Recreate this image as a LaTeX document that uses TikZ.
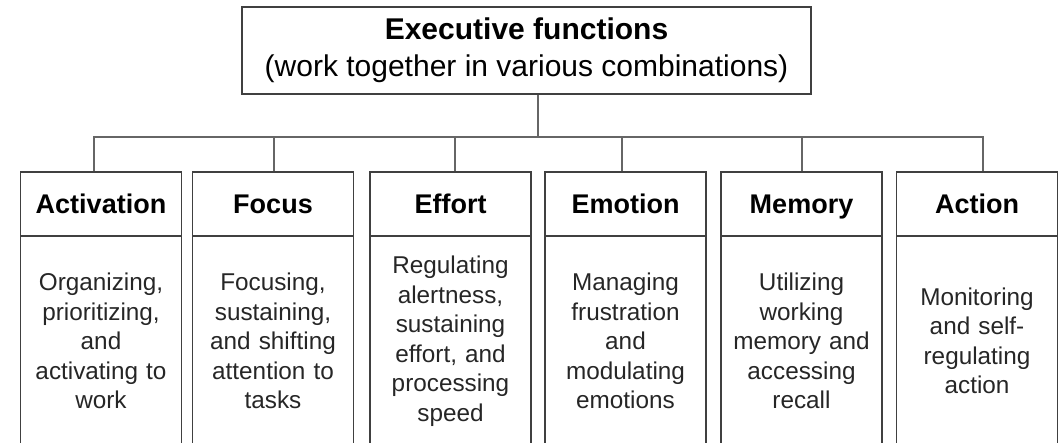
\documentclass[tikz,border=0pt]{standalone}
\usepackage{fontspec}
\setmainfont{Liberation Sans}

\begin{document}
\begin{tikzpicture}[x=1pt,y=-1pt]
\tikzset{title/.style = {draw=black!75,line width=1.2pt,minimum width=569pt,minimum height=87pt,align=center,inner sep=0pt,font=\fontsize{30}{37}\selectfont}}
\tikzset{head/.style = {draw=black!75,line width=1.2pt,minimum width=161pt,minimum height=64pt,inner sep=0pt,text height=19.2pt,text depth=0pt,font=\fontsize{27}{30}\selectfont\bfseries}}
\tikzset{body/.style = {draw=black!75,line width=1.2pt,minimum width=161pt,minimum height=210pt,text width=154pt,align=center,inner sep=0pt,text=black!85,font=\fontsize{24.3}{29.5}\selectfont}}
\tikzset{link/.style = {-,draw=black!60,line width=1.2pt}}
\useasboundingbox (0,0) rectangle (1064,442);
% top box
\node[title] (exec) at (526.5,50.5) {{\bfseries Executive functions}\\(work together in various combinations)};
% headers
\node[head] (act)  at (101,204)   {Activation};
\node[head] (foc)  at (273,204)   {Focus};
\node[head] (eff)  at (450.5,204) {Effort};
\node[head] (emo)  at (625.5,204) {Emotion};
\node[head] (mem)  at (801.5,204) {Memory};
\node[head] (actn) at (977,204)   {Action};
% bodies
\node[body] (actb)  at (101,341)   {Organizing,\\prioritizing,\\and\\activating to\\work};
\node[body] (focb)  at (273,341)   {Focusing,\\sustaining,\\and shifting\\attention to\\tasks};
\node[body] (effb)  at (450.5,341) {Regulating\\alertness,\\sustaining\\effort, and\\processing\\speed};
\node[body] (emob)  at (625.5,341) {Managing\\frustration\\and\\modulating\\emotions};
\node[body] (memb)  at (801.5,341) {Utilizing\\working\\memory and\\accessing\\recall};
\node[body] (actnb) at (977,341)   {Monitoring\\and self-\\regulating\\action};
%edges
\coordinate (bus) at (538,137);
\draw[link] (exec.south -| bus) -- (bus);
\draw[link] ([xshift=-7pt]act.north) |- (bus);
\draw[link] ([xshift=6pt]actn.north) |- (bus);
\foreach \n/\dx in {foc/1,eff/4.5,emo/-3.5,mem/0.5}
  \draw[link] ([xshift=\dx pt]\n.north) -- ([xshift=\dx pt]\n.north |- bus);
\end{tikzpicture}
\end{document}
